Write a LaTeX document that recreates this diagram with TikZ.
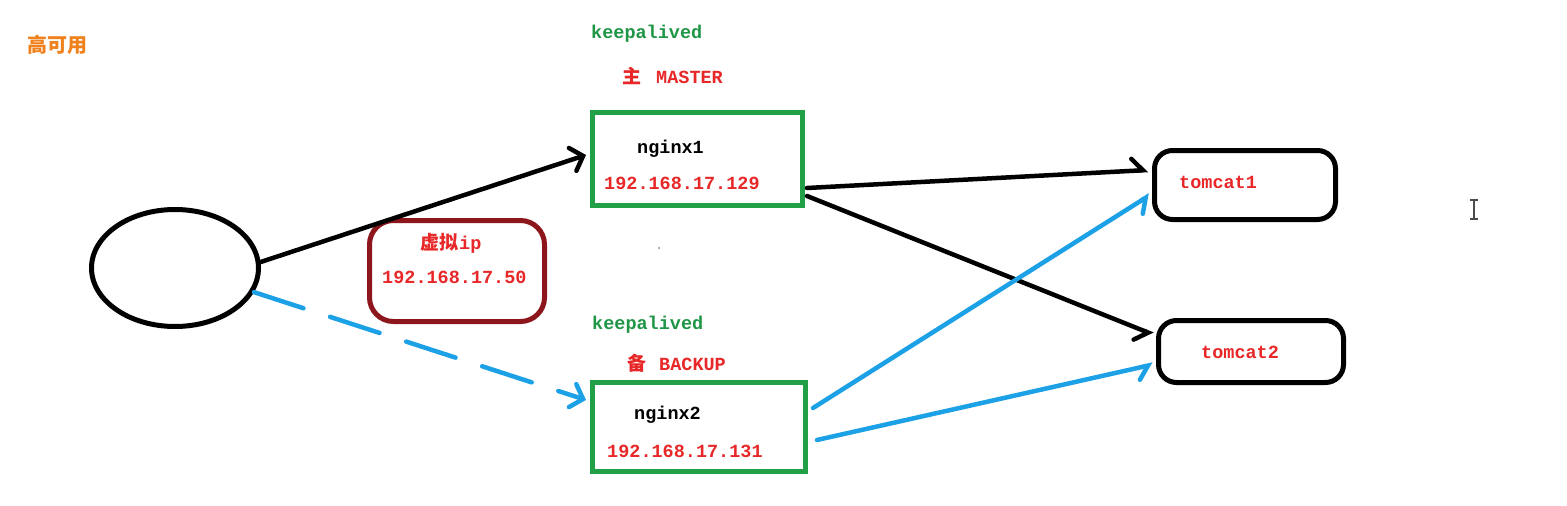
\documentclass[tikz,border=0pt]{standalone}
\usepackage{fontspec}
\setmonofont{Liberation Mono}
\newfontfamily\cjk{Noto Sans CJK SC}
\usetikzlibrary{arrows.meta,shapes.geometric,calc}
\definecolor{boxgreen}{RGB}{34,160,72}
\definecolor{kagreen}{RGB}{30,150,70}
\definecolor{txtred}{RGB}{232,40,40}
\definecolor{vipred}{RGB}{140,22,28}
\definecolor{linkblue}{RGB}{28,160,230}
\definecolor{titleorange}{RGB}{240,130,30}
\begin{document}
\begin{tikzpicture}[x=1pt,y=-1pt,
  lbl/.style={anchor=base west,inner sep=0pt,font=\fontsize{18.5}{20}\selectfont\ttfamily\bfseries},
  cjklbl/.style={anchor=base west,inner sep=0pt,font=\fontsize{19}{21}\selectfont\cjk\bfseries},
  greenbox/.style={draw=boxgreen,line width=5pt,rectangle,inner sep=0pt},
  tombox/.style={draw=black,line width=5pt,rectangle,rounded corners=18pt,inner sep=0pt},
  conn/.style={line width=4.5pt,line cap=round,line join=round},
  bothbarb/.style={-{Straight Barb[length=11pt,width=24pt,line cap=round]}},
  upbarb/.style={-{Straight Barb[harpoon,length=11pt,width=24pt,line cap=round]}},
  downbarb/.style={-{Straight Barb[harpoon,swap,length=11pt,width=24pt,line cap=round]}}]
\useasboundingbox (0,0) rectangle (1567,506);
\fill[white] (0,0) rectangle (1567,506);

% title
\node[anchor=base west,inner sep=0pt,text=titleorange,font=\fontsize{20}{22}\selectfont\cjk\bfseries] (title) at (27,52) {高可用};

% client ellipse
\node[draw,line width=5pt,ellipse,minimum width=167pt,minimum height=117pt,inner sep=0pt] (client) at (175,268) {};

% nginx boxes
\node[greenbox,minimum width=210pt,minimum height=93pt] (nginx1) at (697.5,159) {};
\node[greenbox,minimum width=213pt,minimum height=89pt] (nginx2) at (699,427) {};

% virtual ip box
\node[draw=vipred,line width=5pt,rounded corners=24pt,minimum width=175pt,minimum height=101pt,inner sep=0pt] (vip) at (457,271) {};

% tomcat boxes
\node[tombox,minimum width=181pt,minimum height=69pt] (tomcat1) at (1245,185) {};
\node[tombox,minimum width=185pt,minimum height=62pt] (tomcat2) at (1251,351.5) {};

% labels
\node[lbl,text=kagreen] (ka1) at (591,38) {keepalived};
\node[cjklbl,text=txtred] (m1) at (622,83) {主};
\node[lbl,text=txtred] (m2) at (656,83) {MASTER};
\node[lbl,text=black] (n1) at (637,153) {nginx1};
\node[lbl,text=txtred] (ip1) at (604,189) {192.168.17.129};

\node[cjklbl,text=txtred] (v1) at (420,249) {虚拟};
\node[lbl,text=txtred] (v2) at (459,249) {ip};
\node[lbl,text=txtred] (vip2) at (382,283) {192.168.17.50};

\node[lbl,text=kagreen] (ka2) at (592,329) {keepalived};
\node[cjklbl,text=txtred] (b1) at (627,370) {备};
\node[lbl,text=txtred] (b2) at (659,370) {BACKUP};
\node[lbl,text=black] (n2) at (634,419) {nginx2};
\node[lbl,text=txtred] (ip2) at (607,457) {192.168.17.131};

\node[lbl,text=txtred] (t1) at (1179,188) {tomcat1};
\node[lbl,text=txtred] (t2) at (1201,358) {tomcat2};

% connectors
\draw[conn,bothbarb] (client.4) -- ($(nginx1.west)+(-4,-4)$);
\draw[conn,bothbarb,linkblue,dash pattern=on 52pt off 28pt] (client.-17) -- ($(nginx2.west)+(-4,-27)$);
\draw[conn,upbarb] ($(nginx1.east)+(2,29)$) -- ($(tomcat1.west)+(-4,-15)$);
\draw[conn,downbarb] ($(nginx1.east)+(2,37)$) -- ($(tomcat2.west)+(-3,-17)$);
\draw[conn,downbarb,linkblue] ($(nginx2.east)+(5,-19)$) -- ($(tomcat1.west)+(-2,10)$);
\draw[conn,downbarb,linkblue] ($(nginx2.east)+(9,13)$) -- ($(tomcat2.west)+(-3,13)$);

% stray dot and text cursor
\fill[gray] (659,248) circle (1pt);
\draw[line width=1.2pt,black!70] (1474,200) -- (1474,219) (1470,200) -- (1478,200) (1470,219) -- (1478,219);
\end{tikzpicture}
\end{document}
